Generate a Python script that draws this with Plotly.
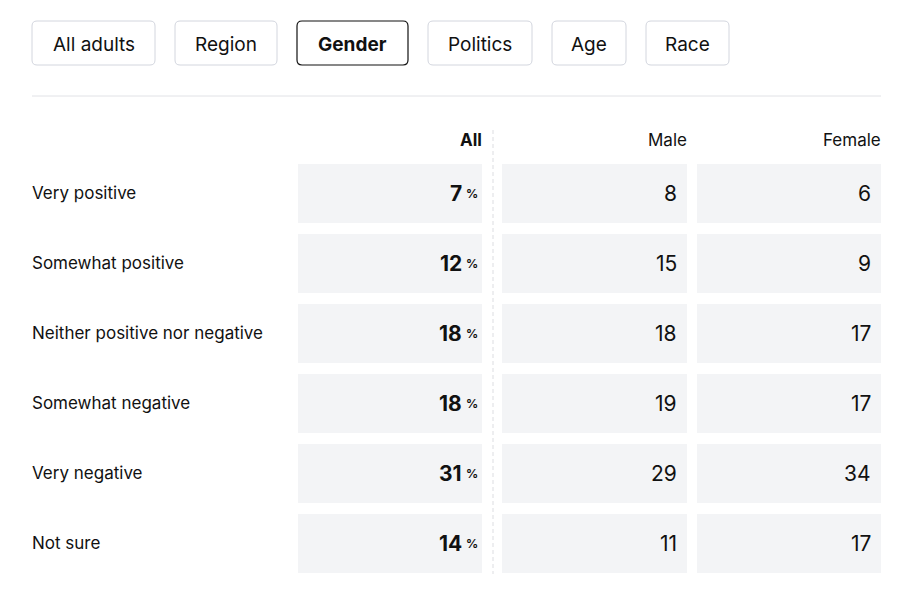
import plotly.graph_objects as go

W, H = 903, 593
OFF = 8  # page body margin the browser adds around the plot div
FW, FH = W - OFF, H - OFF
FONT = "Inter"

tabs = ["All adults", "Region", "Gender", "Politics", "Age", "Race"]
active_tab = "Gender"
answers = ["Very positive", "Somewhat positive", "Neither positive nor negative",
           "Somewhat negative", "Very negative", "Not sure"]
all_pct = [7, 12, 18, 18, 31, 14]
male = [8, 15, 18, 19, 29, 11]
female = [6, 9, 17, 17, 34, 17]

# column extents in page pixels (x axis runs OFF..W)
columns = [("All", all_pct, 298, 482), ("Male", male, 502, 687), ("Female", female, 697, 881)]
tab_x = [(32, 155), (175, 277), (297, 408), (428, 532), (552, 626), (646, 729)]

CELL = "#f3f4f6"
INK = "#111111"


def px(x):
    return (x - OFF) / FW


def py(y):
    return 1 - (y - OFF) / FH


def rounded(x0, y0, x1, y1, r=5):
    # rounded rectangle path in paper coords, input in page pixels
    pts = [
        f"M {px(x0 + r)} {py(y0)}", f"L {px(x1 - r)} {py(y0)}",
        f"Q {px(x1)} {py(y0)} {px(x1)} {py(y0 + r)}", f"L {px(x1)} {py(y1 - r)}",
        f"Q {px(x1)} {py(y1)} {px(x1 - r)} {py(y1)}", f"L {px(x0 + r)} {py(y1)}",
        f"Q {px(x0)} {py(y1)} {px(x0)} {py(y1 - r)}", f"L {px(x0)} {py(y0 + r)}",
        f"Q {px(x0)} {py(y0)} {px(x0 + r)} {py(y0)}", "Z",
    ]
    return " ".join(pts)


fig = go.Figure()

for name, vals, x0, x1 in columns:
    fig.add_trace(go.Bar(
        y=answers, x=[x1 - x0] * len(answers), base=x0, orientation="h",
        marker=dict(color=CELL, line=dict(width=0)), width=59 / 70,
        hoverinfo="skip", showlegend=False,
    ))

annotations = []
shapes = []

# tabs
for label, (x0, x1) in zip(tabs, tab_x):
    on = label == active_tab
    shapes.append(dict(type="path", xref="paper", yref="paper", path=rounded(x0, 21, x1, 65),
                       line=dict(color=INK if on else "#d3d6de", width=1.2 if on else 1),
                       fillcolor="white", layer="below"))
    annotations.append(dict(x=px((x0 + x1) / 2), y=py(44), xref="paper", yref="paper",
                            text=f"<b>{label}</b>" if on else label, showarrow=False,
                            font=dict(family=FONT, size=19, color=INK),
                            xanchor="center", yanchor="middle"))

shapes.append(dict(type="line", xref="paper", yref="paper", x0=px(32), x1=px(881),
                   y0=py(96), y1=py(96), line=dict(color="#e1e2e6", width=1)))
shapes.append(dict(type="line", xref="paper", yref="paper", x0=px(493), x1=px(493),
                   y0=py(130), y1=py(574), line=dict(color="#dcdde1", width=1, dash="4px,3px")))

# column headers
for name, vals, x0, x1 in columns:
    annotations.append(dict(x=x1 + 2, y=py(140), xref="x", yref="paper",
                            text=f"<b>{name}</b>" if name == "All" else name, showarrow=False,
                            font=dict(family=FONT, size=17, color=INK),
                            xanchor="right", yanchor="middle"))

# row labels and values
for i, ans in enumerate(answers):
    annotations.append(dict(x=30, y=ans, xref="x", yref="y", text=ans, showarrow=False,
                            font=dict(family=FONT, size=17, color=INK),
                            xanchor="left", yanchor="middle"))
    for name, vals, x0, x1 in columns:
        if name == "All":
            annotations.append(dict(x=x1 - 18, y=ans, xref="x", yref="y",
                                    text=f"<b>{vals[i]}</b>", showarrow=False,
                                    font=dict(family=FONT, size=21, color=INK, weight=900),
                                    xanchor="right", yanchor="middle"))
            annotations.append(dict(x=x1 - 18, y=ans, xref="x", yref="y",
                                    text="<b>%</b>", showarrow=False,
                                    font=dict(family=FONT, size=12, color=INK),
                                    xanchor="left", yanchor="middle"))
        else:
            annotations.append(dict(x=x1 - 8, y=ans, xref="x", yref="y",
                                    text=str(vals[i]), showarrow=False,
                                    font=dict(family=FONT, size=21, color=INK),
                                    xanchor="right", yanchor="middle"))

fig.update_layout(
    width=FW, height=FH, margin=dict(l=0, r=0, t=0, b=0),
    paper_bgcolor="white", plot_bgcolor="white", barmode="overlay",
    xaxis=dict(range=[OFF, W], domain=[0, 1], visible=False, fixedrange=True),
    yaxis=dict(range=[5.5, -0.5], domain=[py(578), py(158)], visible=False, fixedrange=True),
    bargap=0, annotations=annotations, shapes=shapes,
)

fig.write_html("out.html")
